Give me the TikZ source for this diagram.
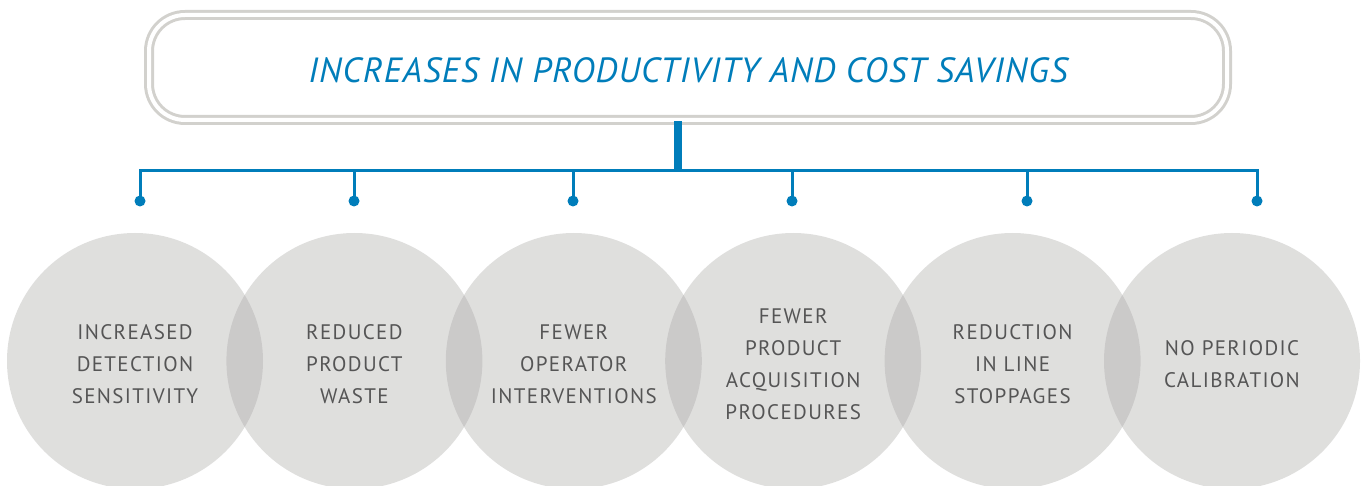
\documentclass[tikz,border=0pt]{standalone}
\usepackage{fontspec}
\setmainfont{PT Sans}
\newfontfamily\circfont[LetterSpace=6.5]{PT Sans}
\newfontfamily\titlefont[LetterSpace=3.0]{PT Sans Italic}
\definecolor{blueA}{RGB}{0,125,186}
\definecolor{frameg}{RGB}{210,209,205}
\definecolor{circg}{RGB}{170,169,166}
\definecolor{textg}{RGB}{85,85,85}
\tikzset{
  topbox/.style={draw=frameg, line width=3pt, double=white, double distance=4pt,
    rounded corners=36pt, minimum width=1078pt, minimum height=105pt, inner sep=0pt,
    font=\titlefont\fontsize{35}{40}\selectfont, text=blueA},
  bubble/.style={circle, fill=circg, fill opacity=0.375, minimum size=256pt, inner sep=0pt},
  btext/.style={align=center, text=textg, inner sep=0pt, font=\circfont\fontsize{21}{32}\selectfont},
  link/.style={draw=blueA, line width=3pt},
  trunk/.style={draw=blueA, line width=8.7pt},
  dotend/.style={circle, fill=blueA, minimum size=11pt, inner sep=0pt}
}
\begin{document}
\begin{tikzpicture}[x=1pt, y=-1pt]
\clip (0,0) rectangle (1367,486);
\node[topbox] (top) at (688,67.5) {\raisebox{-3pt}[\height][\depth]{INCREASES IN PRODUCTIVITY AND COST SAVINGS}};
\coordinate (hub) at (678,171);
\foreach \i/\x in {1/140,2/354,3/573,4/792,5/1027,6/1257}{
  \node[dotend] (d\i) at (\x,201) {};
}
\draw[trunk] (hub |- top.south) -- (hub);
\draw[link] (d1.center) |- (hub) -| (d6.center);
\foreach \i in {2,3,4,5}{
  \draw[link] (d\i.center) -- (d\i.center |- hub);
}
\foreach \i/\x in {1/135,2/354.4,3/573.8,4/793.2,5/1012.6,6/1232}{
  \node[bubble] (c\i) at (\x,361) {};
}
\node[btext] (t1) at ([yshift=-3pt]c1.center) {INCREASED\\DETECTION\\SENSITIVITY};
\node[btext] (t2) at ([yshift=-3pt]c2.center) {REDUCED\\PRODUCT\\WASTE};
\node[btext] (t3) at ([yshift=-3pt]c3.center) {FEWER\\OPERATOR\\INTERVENTIONS};
\node[btext] (t4) at ([yshift=-3pt]c4.center) {FEWER\\PRODUCT\\ACQUISITION\\PROCEDURES};
\node[btext] (t5) at ([yshift=-3pt]c5.center) {REDUCTION\\IN LINE\\STOPPAGES};
\node[btext] (t6) at ([yshift=-3pt]c6.center) {NO PERIODIC\\CALIBRATION};
\end{tikzpicture}
\end{document}
